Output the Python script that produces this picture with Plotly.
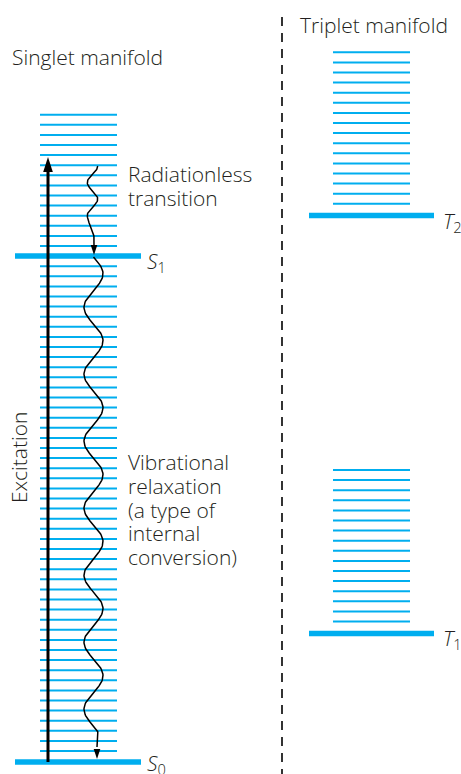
import numpy as np
import plotly.graph_objects as go

# ---- data (diagram units: vertical position, top = 0) ----
singlet_vib_levels = [751, 740.9, 730.8, 720.7, 710.6, 700.5, 690.4, 680.3, 670.2, 660.1,
                      650, 639.9, 629.8, 619.7, 609.6, 599.5, 589.4, 579.3, 569.2, 559.1,
                      549, 538.9, 528.8, 518.7, 508.6, 498.5, 488.4, 478.3, 468.2, 458.1,
                      448, 437.9, 427.8, 417.7, 407.6, 397.5, 387.4, 377.3, 367.2, 357.1,
                      347, 336.9, 326.8, 316.7, 306.6, 296.5, 286.4, 276.3, 266.2,
                      246, 235.9, 225.8, 215.7, 205.6, 195.5, 185.4, 175.3, 165.2, 155.1,
                      145, 134.9, 124.8, 114.7]
t2_vib_levels = [52.3, 62.4, 72.5, 82.6, 92.7, 102.8, 112.9, 123.0, 133.1, 143.2,
                 153.3, 163.4, 173.5, 183.6, 193.7, 203.8]
t1_vib_levels = [470, 480.1, 490.2, 500.3, 510.4, 520.5, 530.6, 540.7, 550.8, 560.9,
                 571, 581.1, 591.2, 601.3, 611.4, 621.5]
electronic_states = ["S0", "S1", "T1", "T2"]
electronic_levels = [762, 256, 633.5, 215.5]
state_labels = ["<i>S</i><sub>0</sub>", "<i>S</i><sub>1</sub>",
                "<i>T</i><sub>1</sub>", "<i>T</i><sub>2</sub>"]
excitation_top = 157

BLUE = "#00AEEF"
INK = "#231F20"
FONT = "Open Sans, Liberation Sans, Arial, sans-serif"

W, H = 461, 774
fig = go.Figure()

def hlines(ys, x0, x1):
    xs, yy = [], []
    for y in ys:
        xs += [x0, x1, None]
        yy += [y, y, None]
    return xs, yy

# vibrational levels
for ys, (x0, x1) in [(singlet_vib_levels, (40, 117)),
                     (t2_vib_levels, (333, 410)),
                     (t1_vib_levels, (333, 410))]:
    xs, yy = hlines(ys, x0, x1)
    fig.add_trace(go.Scatter(x=xs, y=yy, mode="lines",
                             line=dict(color=BLUE, width=2), hoverinfo="skip"))

# electronic levels
lev = dict(zip(electronic_states, electronic_levels))
spans = {"S0": (15, 141), "S1": (15, 141), "T1": (309, 434), "T2": (309, 434)}
for s in electronic_states:
    xs, yy = hlines([lev[s]], *spans[s])
    fig.add_trace(go.Scatter(x=xs, y=yy, mode="lines",
                             line=dict(color=BLUE, width=5.5), hoverinfo="skip"))

# dashed divider
fig.add_trace(go.Scatter(x=[282, 282], y=[17, H], mode="lines",
                         line=dict(color="black", width=1.6, dash="9px,7px"),
                         hoverinfo="skip"))

# excitation arrow
fig.add_trace(go.Scatter(x=[48, 48], y=[lev["S0"], excitation_top + 12], mode="lines",
                         line=dict(color="black", width=3), hoverinfo="skip"))

def head(xt, yt, hw, L):
    return f"M{xt},{yt} L{xt-hw},{yt-L} L{xt+hw},{yt-L} Z"

shapes = []
shapes.append(dict(type="path", path=head(48, excitation_top, 4.8, -15),
                   fillcolor="black", line=dict(width=0), xref="x", yref="y"))

# radiationless wavy arrow (top -> S1)
y1 = np.linspace(166, 215, 80)
x1 = 92.5 + 5.2 * np.cos(2 * np.pi * (y1 - 166) / 33)
y1b = np.linspace(215, 238, 30)
x1b = x1[-1] + (94 - x1[-1]) * (1 - np.cos(np.pi * (y1b - 215) / 23)) / 2
wx = list(x1) + list(x1b) + [94]
wy = list(y1) + list(y1b) + [lev["S1"] - 9]
fig.add_trace(go.Scatter(x=wx, y=wy, mode="lines",
                         line=dict(color="black", width=1.5), hoverinfo="skip"))
shapes.append(dict(type="path", path=head(94, lev["S1"] - 1, 3.3, 10),
                   fillcolor="black", line=dict(width=0), xref="x", yref="y"))

# vibrational relaxation wavy arrow (S1 -> S0)
y2 = np.linspace(lev["S1"] + 1, 731, 400)
x2 = 93.5 + 9.5 * np.sin(2 * np.pi * (y2 - (lev["S1"] + 1)) / 67)
y2b = np.linspace(731, 747, 20)
x2b = x2[-1] + (97 - x2[-1]) * (1 - np.cos(np.pi * (y2b - 731) / 16)) / 2
fig.add_trace(go.Scatter(x=list(x2) + list(x2b), y=list(y2) + list(y2b), mode="lines",
                         line=dict(color="black", width=1.5), hoverinfo="skip"))
shapes.append(dict(type="path", path=head(97, lev["S0"] - 3, 3.3, 10),
                   fillcolor="black", line=dict(width=0), xref="x", yref="y"))

# annotations
ann = []
def txt(x, y, t, size=21, xanchor="left", angle=0):
    ann.append(dict(x=x, y=y, text=t, showarrow=False, xanchor=xanchor, yanchor="middle",
                    textangle=angle,
                    font=dict(family=FONT, size=size, color=INK, weight=300),
                    xref="x", yref="y"))

txt(10, 57, "Singlet manifold")
txt(298, 25, "Triplet manifold")
txt(126, 174, "Radiationless")
txt(126, 198, "transition")
for t, y in zip(["Vibrational", "relaxation", "(a type of", "internal", "conversion)"],
                [462, 486, 510, 533, 557]):
    txt(126, y, t)
txt(19, 458, "Excitation", xanchor="center", angle=-90)

label_pos = {"S0": (145, 764), "S1": (145, 262), "T1": (441, 639), "T2": (441, 222)}
for s, lab in zip(electronic_states, state_labels):
    x, y = label_pos[s]
    txt(x, y, lab, size=21)

fig.update_layout(
    width=W, height=H, margin=dict(l=0, r=0, t=0, b=0),
    paper_bgcolor="white", plot_bgcolor="white", showlegend=False,
    xaxis=dict(range=[0, W], visible=False, fixedrange=True),
    yaxis=dict(range=[H, 0], visible=False, fixedrange=True),
    shapes=shapes, annotations=ann,
)
fig.write_html("out.html", config={"displayModeBar": False},
               post_script="document.body.style.margin='0';document.body.style.overflow='hidden';")
